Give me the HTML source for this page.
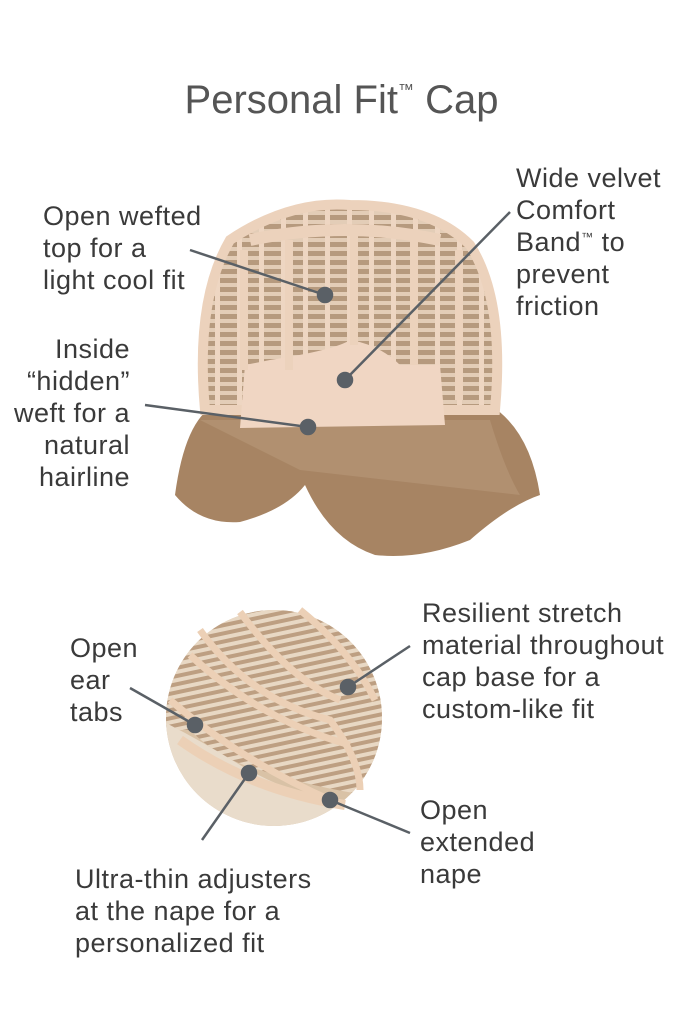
<!DOCTYPE html>
<html><head><meta charset="utf-8"><style>
body{margin:0;background:#fff;}
#w{position:relative;width:683px;height:1024px;overflow:hidden;font-family:"Liberation Sans",sans-serif;color:#3a3a3a;}
.t{position:absolute;font-size:27px;letter-spacing:0.5px;line-height:32px;white-space:nowrap;}
sup{line-height:0;font-size:12px;vertical-align:10px}
</style></head><body><div id="w">
<div class="t" style="left:0;width:683px;text-align:center;top:76px;font-size:40px;letter-spacing:0;line-height:48px;color:#555">Personal Fit<sup style="font-size:16px;vertical-align:18px">™</sup> Cap</div>
<svg width="683" height="1024" style="position:absolute;left:0;top:0">
<defs>
<pattern id="g" width="22" height="9" patternUnits="userSpaceOnUse"><rect width="22" height="9" fill="#b69a7e"/><rect y="4" width="22" height="4" fill="#e3cdb7"/><rect x="17" width="5" height="9" fill="#eed6c2"/></pattern>
<pattern id="g2" width="30" height="8" patternUnits="userSpaceOnUse" patternTransform="rotate(-12)"><rect width="30" height="8" fill="#bd9f82"/><rect y="4" width="30" height="4" fill="#e8d8c4"/></pattern>
<clipPath id="c"><circle cx="274" cy="718" r="108"/></clipPath>
</defs>
<path d="M175 495 Q185 420 215 405 L490 405 Q530 430 540 495 Q510 505 470 540 Q420 560 375 555 Q330 540 305 485 Q285 510 240 522 Q200 525 175 495Z" fill="#a78463"/>
<path d="M200 420 L490 420 Q505 470 520 495 L300 470 Z" fill="#b8987a" opacity=".6"/>
<path d="M205 410 Q195 300 230 240 Q290 200 350 205 Q430 205 470 245 Q505 300 495 410 Z" fill="url(#g)"/>
<path d="M205 410 Q195 300 230 240 Q290 200 350 205 Q430 205 470 245 Q505 300 495 410 Z" fill="none" stroke="#ecd2bc" stroke-width="10"/>
<path d="M250 240 Q345 220 440 240" stroke="#ecd2bc" stroke-width="12" fill="none"/>
<path d="M270 360 Q335 350 350 340 Q380 345 400 365 L440 365 L445 425 L240 428 L245 365 Z" fill="#f0d6c3"/>
<rect x="240" y="250" width="8" height="120" fill="#ecd2bc"/><rect x="285" y="240" width="8" height="130" fill="#ecd2bc"/>
<rect x="350" y="235" width="8" height="110" fill="#ecd2bc"/><rect x="410" y="240" width="8" height="125" fill="#ecd2bc"/>
<rect x="455" y="250" width="8" height="150" fill="#ecd2bc"/>
<circle cx="274" cy="718" r="108" fill="#d9c2a6"/>
<g clip-path="url(#c)">
<path d="M150 600 L400 600 L400 800 Q320 790 260 770 Q220 760 190 730 L150 730Z" fill="url(#g2)"/>
<path d="M160 720 Q200 740 240 765 Q300 800 380 815 L380 830 L160 830Z" fill="#e9dccb"/>
</g>
<g fill="none" stroke="#ecd0b6" stroke-width="7">
<path d="M200 630 Q250 700 330 720 Q360 760 360 790"/><path d="M240 612 Q290 680 340 700"/>
<path d="M300 610 Q350 650 375 700"/><path d="M170 700 Q240 760 330 800"/>
<path d="M190 655 Q260 720 350 745"/><path d="M180 740 Q250 790 345 805" stroke-width="10"/>
</g>
<g stroke="#5a6066" stroke-width="2.5" fill="#5a6066">
<line x1="190" y1="250" x2="325" y2="295"/><circle cx="325" cy="295" r="7"/>
<line x1="510" y1="212" x2="345" y2="380"/><circle cx="345" cy="380" r="7"/>
<line x1="145" y1="405" x2="308" y2="427"/><circle cx="308" cy="427" r="7"/>
<line x1="130" y1="688" x2="195" y2="725"/><circle cx="195" cy="725" r="7"/>
<line x1="410" y1="646" x2="348" y2="687"/><circle cx="348" cy="687" r="7"/>
<line x1="410" y1="833" x2="330" y2="800"/><circle cx="330" cy="800" r="7"/>
<line x1="202" y1="840" x2="249" y2="773"/><circle cx="249" cy="773" r="7"/>
</g>
</svg>
<div class="t" style="left:43px;top:200px">Open wefted<br>top for a<br>light cool fit</div>
<div class="t" style="left:516px;top:162px">Wide velvet<br>Comfort<br>Band<sup>™</sup> to<br>prevent<br>friction</div>
<div class="t" style="right:553px;top:333px;text-align:right">Inside<br>“hidden”<br>weft for a<br>natural<br>hairline</div>
<div class="t" style="left:70px;top:632px">Open<br>ear<br>tabs</div>
<div class="t" style="left:422px;top:597px">Resilient stretch<br>material throughout<br>cap base for a<br>custom-like fit</div>
<div class="t" style="left:420px;top:794px">Open<br>extended<br>nape</div>
<div class="t" style="left:75px;top:863px">Ultra-thin adjusters<br>at the nape for a<br>personalized fit</div>
</div></body></html>
